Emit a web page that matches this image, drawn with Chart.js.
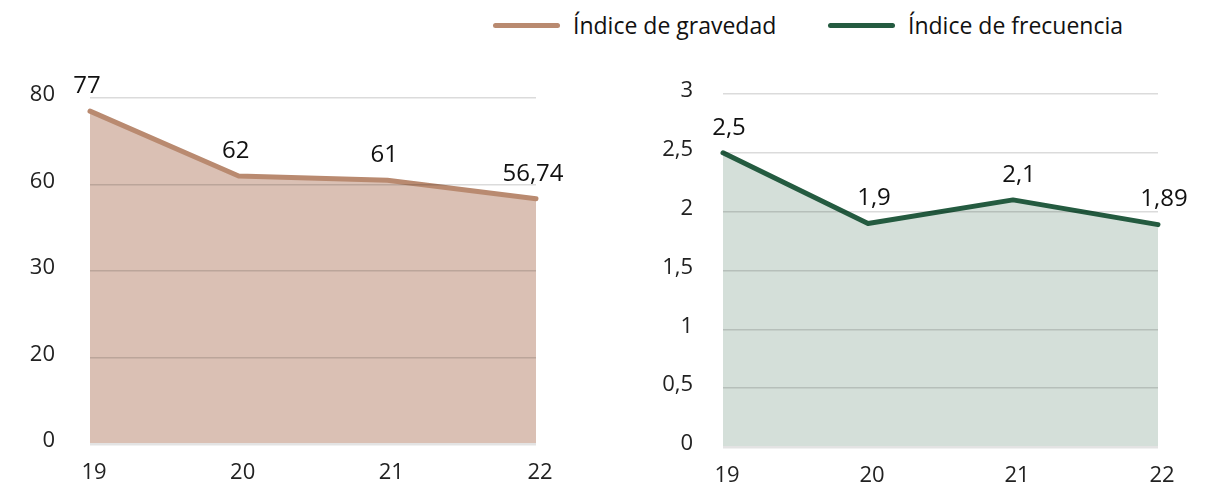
<!DOCTYPE html>
<html lang="es">
<head>
<meta charset="utf-8">
<title>Índices de gravedad y frecuencia</title>
<script src="https://cdn.jsdelivr.net/npm/chart.js@4.4.1/dist/chart.umd.min.js"></script>
<style>
  html, body { margin: 0; padding: 0; background: #fff; }
  body { width: 1208px; height: 492px; position: relative; overflow: hidden; font-family: "Open Sans", sans-serif; color: #111; }
  .leyenda { position: absolute; top: 8px; display: flex; align-items: center; font-size: 23px; line-height: 34px; }
  .leyenda .linea { width: 67px; height: 5px; border-radius: 3px; margin-right: 13px; }
  .panel { position: absolute; top: 50px; height: 442px; }
</style>
</head>
<body>
<div class="leyenda" style="left:493px"><span class="linea" style="background:#b98a70"></span><span>Índice de gravedad</span></div>
<div class="leyenda" style="left:828px"><span class="linea" style="background:#245b40"></span><span>Índice de frecuencia</span></div>

<div class="panel" style="left:0; width:600px"><canvas id="gravedad"></canvas></div>
<div class="panel" style="left:604px; width:604px"><canvas id="frecuencia"></canvas></div>

<script>
// Años del periodo
const anios = ["19", "20", "21", "22"];

// Índice de gravedad
const gravedad = [77, 62, 61, 56.74];
const ticksGravedad = ["0", "20", "30", "60", "80"];

// Índice de frecuencia
const frecuencia = [2.5, 1.9, 2.1, 1.89];
const ticksFrecuencia = ["0", "0,5", "1", "1,5", "2", "2,5", "3"];

// escribe el valor encima de cada punto, con coma decimal
const etiquetasValor = {
  id: "etiquetasValor",
  afterDatasetsDraw(chart, args, opts) {
    const ctx = chart.ctx;
    const meta = chart.getDatasetMeta(0);
    const datos = chart.data.datasets[0].data;
    ctx.save();
    ctx.font = "24px 'Open Sans', sans-serif";
    ctx.fillStyle = "#111";
    ctx.textAlign = "center";
    ctx.textBaseline = "middle";
    meta.data.forEach((p, i) => {
      ctx.fillText(String(datos[i]).replace(".", ","), p.x + (opts.dx || 0), p.y - 25);
    });
    ctx.restore();
  },
};

function crearGrafico(id, valores, etiquetasY, max, paso, colorLinea, colorRelleno, anchoEje, margenDerecho, separacion, dx) {
  return new Chart(document.getElementById(id), {
    type: "line",
    data: {
      labels: anios,
      datasets: [
        {
          data: valores,
          borderColor: colorLinea,
          backgroundColor: colorRelleno,
          borderWidth: 5,
          borderCapStyle: "round",
          borderJoinStyle: "round",
          fill: "origin",
          pointRadius: 0,
          tension: 0,
          clip: false,
        },
      ],
    },
    options: {
      responsive: true,
      maintainAspectRatio: false,
      animation: false,
      layout: { padding: { top: 44, right: margenDerecho, left: 0, bottom: 0 } },
      scales: {
        x: {
          offset: false,
          grid: { display: false, drawTicks: false },
          border: { display: false },
          ticks: { color: "#222", font: { family: "'Open Sans', sans-serif", size: 22 }, padding: 16, labelOffset: 4, maxRotation: 0 },
          afterFit: (s) => { s.height = 45; },
        },
        y: {
          min: 0,
          max: max,
          grid: {
            z: 1, // rejilla por encima del relleno
            drawTicks: false,
            color: (c) => (c.tick && c.tick.value === 0 ? "#e3e3e3" : "rgba(0,0,0,0.14)"),
            lineWidth: (c) => (c.tick && c.tick.value === 0 ? 2.5 : 1.6),
          },
          border: { display: false },
          ticks: {
            stepSize: paso,
            color: "#222",
            padding: separacion,
            labelOffset: -3,
            font: { family: "'Open Sans', sans-serif", size: 22 },
            callback: (v, i) => etiquetasY[i],
          },
          afterFit: (s) => { s.width = anchoEje; },
        },
      },
      plugins: {
        legend: { display: false },
        tooltip: { enabled: false },
        etiquetasValor: { dx: dx },
      },
    },
    plugins: [etiquetasValor],
  });
}

crearGrafico("gravedad", gravedad, ticksGravedad, 80, 20, "#b98a70", "#dac0b4", 90, 64, 35, -3);
crearGrafico("frecuencia", frecuencia, ticksFrecuencia, 3, 0.5, "#245b40", "#d4dfd9", 119, 50, 30, 6);
</script>
</body>
</html>
